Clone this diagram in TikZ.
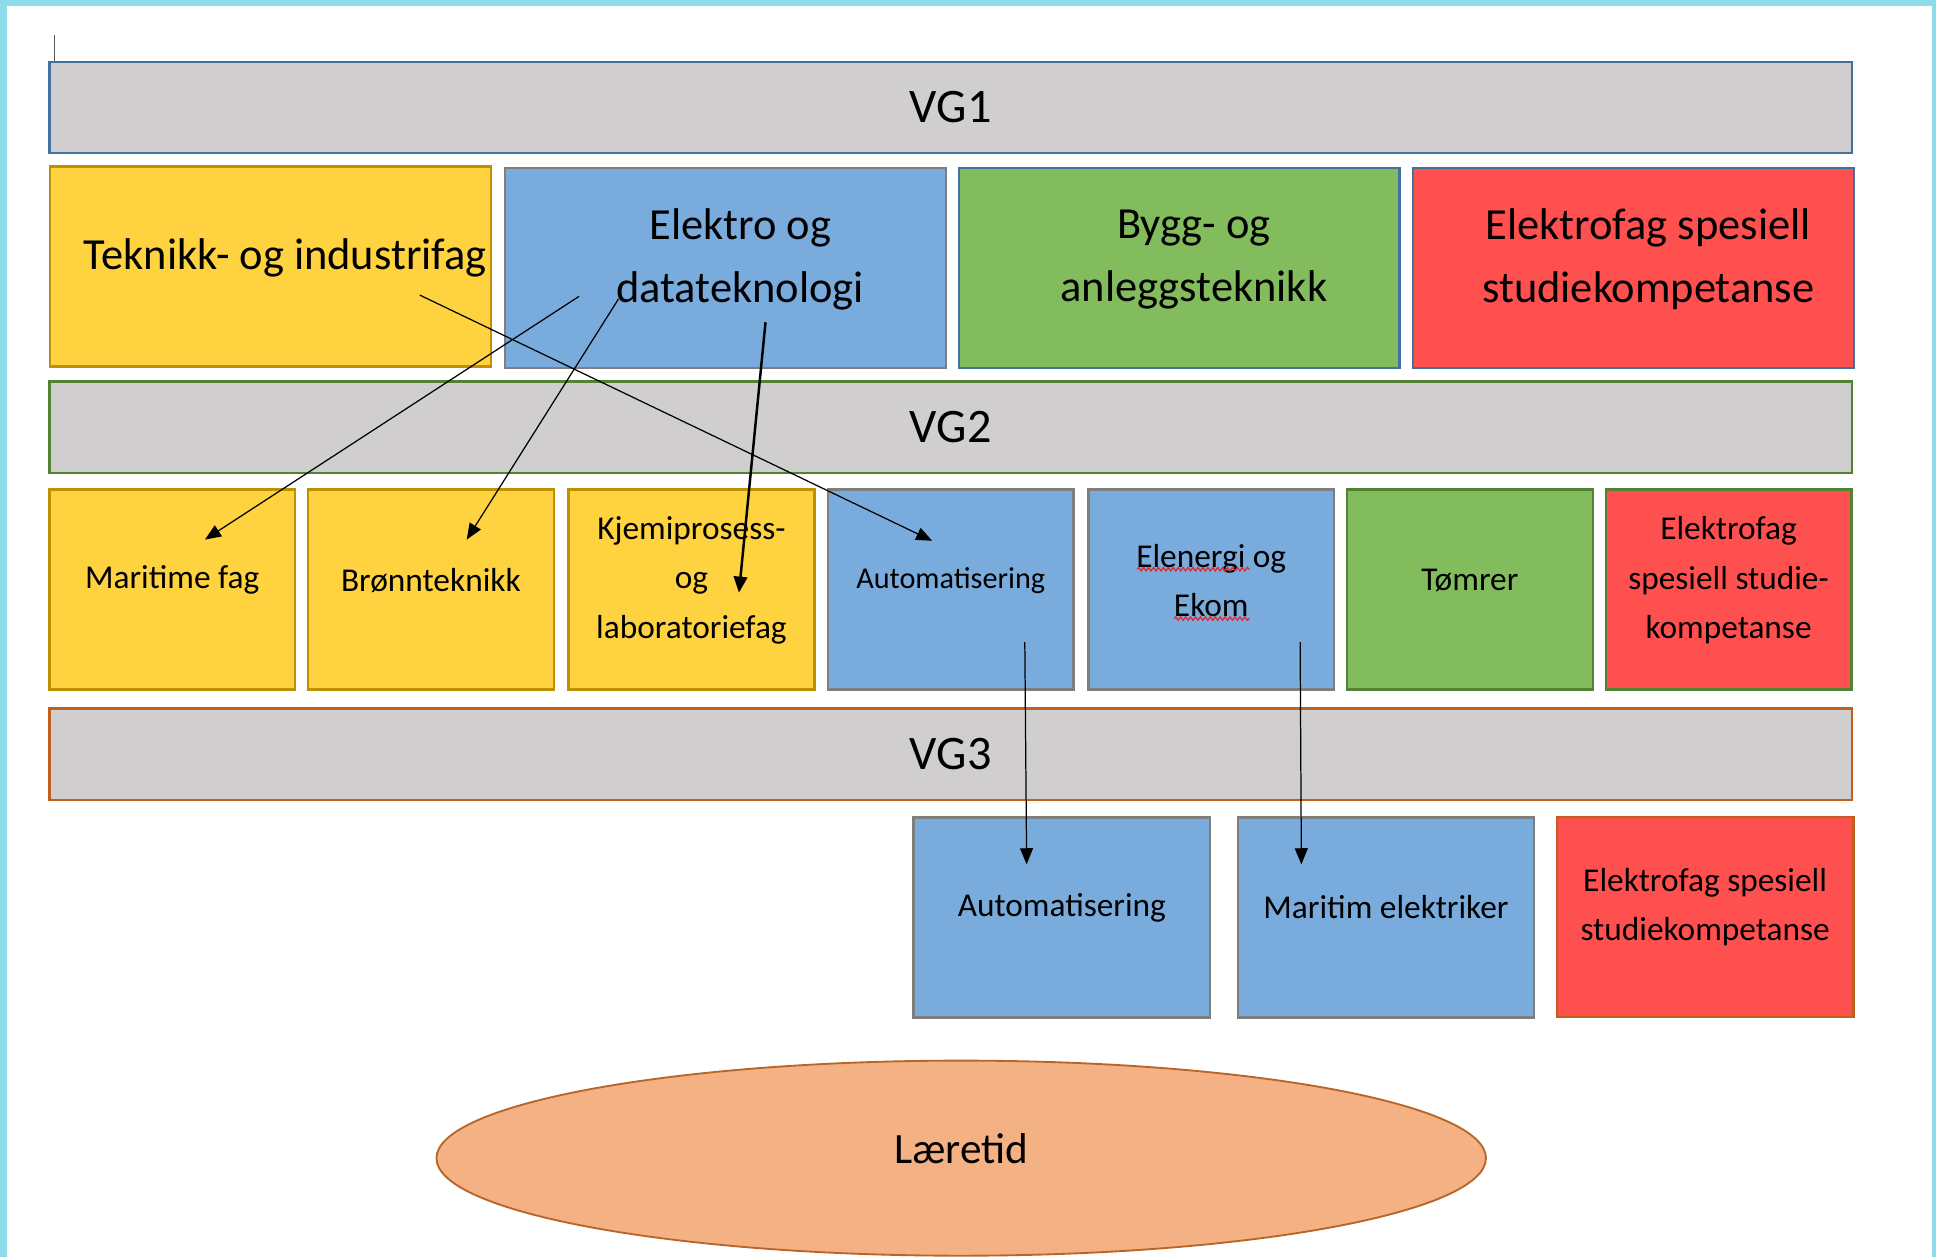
\documentclass[tikz,border=0pt]{standalone}
\usepackage{fontspec}
\setmainfont{Carlito}
\usetikzlibrary{arrows.meta,shapes.geometric,decorations.pathmorphing}
\definecolor{framecyan}{HTML}{8DDCEA}
\definecolor{barfill}{HTML}{D0CECE}
\definecolor{vgblue}{HTML}{41719C}
\definecolor{vggreen}{HTML}{548235}
\definecolor{vgorange}{HTML}{C0601E}
\definecolor{yfill}{HTML}{FFD23F}
\definecolor{yline}{HTML}{BF9000}
\definecolor{bfill}{HTML}{79ACDD}
\definecolor{bline}{HTML}{7F7F7F}
\definecolor{gfill}{HTML}{83BC5C}
\definecolor{rfill}{HTML}{FF5050}
\definecolor{efill}{HTML}{F4B183}
\definecolor{eline}{HTML}{B8652A}
\definecolor{spell}{HTML}{E0282E}
\tikzset{
  bx/.style={rectangle, draw, line width=2pt, inner sep=0pt},
  vgbar/.style={bx, fill=barfill, minimum width=1460pt, minimum height=74pt,
    font=\fontsize{39}{47}\selectfont},
  rowone/.style={minimum width=357pt, minimum height=162pt},
  rowtwo/.style={minimum width=199pt, minimum height=162pt},
  rowthree/.style={minimum width=240pt, minimum height=162pt},
  ybox/.style={bx, fill=yfill, draw=yline},
  bbox/.style={bx, fill=bfill, draw=bline},
  gbox/.style={bx, fill=gfill},
  rbox/.style={bx, fill=rfill},
  tone/.style={font=\fontsize{36}{51}\selectfont, align=center, xshift=12pt, yshift=7pt},
  ttwo/.style={font=\fontsize{27}{40}\selectfont, align=center, yshift=7.5pt},
  ttwosmall/.style={ttwo, font=\fontsize{24.5}{40}\selectfont},
  tthree/.style={font=\fontsize{27}{40}\selectfont, align=center, yshift=8pt},
  conn/.style={line width=1pt, -{Triangle[length=13pt,width=10.5pt]}},
  connthick/.style={line width=2pt, -{Triangle[length=13pt,width=11pt]}},
  squiggle/.style={draw=spell, line width=1pt, decorate,
    decoration={snake, segment length=4pt, amplitude=1.4pt}},
}
\begin{document}
\begin{tikzpicture}[x=1pt,y=-1pt]
\useasboundingbox (0,0) rectangle (1568,1018);
\fill[framecyan] (0,0) rectangle (1568,1018);
\fill[white] (6,4.5) rectangle (1564.5,1018);
% text cursor
\draw[black!65, line width=1pt] (44,28) -- (44,58);

% level bars
\node[vgbar, draw=vgblue]   (vg1) at (770,87)  {VG1};
\node[vgbar, draw=vggreen]  (vg2) at (770,346) {VG2};
\node[vgbar, draw=vgorange] (vg3) at (770,611) {VG3};

% row 1
\node[ybox, rowone, label={[tone]center:Teknikk- og industrifag}] (tek) at (219,216) {};
\node[bbox, rowone, label={[tone]center:{Elektro og\\datateknologi}}] (ele) at (587.5,217) {};
\node[gbox, rowone, draw=vgblue, label={[tone]center:{Bygg- og\\anleggsteknikk}}] (byg) at (955,217) {};
\node[rbox, rowone, draw=vgblue, label={[tone]center:{Elektrofag spesiell\\studiekompetanse}}] (rfa) at (1323,217) {};

% row 2
\node[ybox, rowtwo, label={[ttwo]center:Maritime fag}] (mar) at (139.5,477.5) {};
\node[ybox, rowtwo, label={[ttwo]center:Brønnteknikk}] (bro) at (349,477.5) {};
\node[ybox, rowtwo, label={[ttwo]center:{Kjemiprosess-\\og\\laboratoriefag}}] (kje) at (560,477.5) {};
\node[bbox, rowtwo, label={[ttwosmall]center:Automatisering}] (autb) at (770,477.5) {};
\node[bbox, rowtwo, label={[ttwo]center:{Elenergi og\\Ekom}}] (eln) at (981,477.5) {};
\node[gbox, rowtwo, draw=vggreen, label={[ttwo]center:Tømrer}] (tom) at (1190.5,477.5) {};
\node[rbox, rowtwo, draw=vggreen, label={[ttwo]center:{Elektrofag\\spesiell studie-\\kompetanse}}] (rfb) at (1400,477.5) {};

% spell-check marks
\draw[squiggle] (921,461) -- (1012,461);
\draw[squiggle] (951,501) -- (1012,501);

% row 3
\node[bbox, rowthree, label={[tthree]center:Automatisering}] (autc) at (860,743) {};
\node[bbox, rowthree, label={[tthree]center:Maritim elektriker}] (mel) at (1122.5,743) {};
\node[rbox, rowthree, draw=vgorange, label={[tthree]center:{Elektrofag spesiell\\studiekompetanse}}] (rfc) at (1381,742.5) {};

% apprenticeship
\node[ellipse, draw=eline, fill=efill, line width=1.5pt, minimum width=850pt,
  minimum height=158pt, inner sep=0pt,
  label={[font=\fontsize{35}{40}\selectfont, yshift=8pt]center:Læretid}] (laer) at (778.5,938) {};

% connector end points
\coordinate (s1) at (469,240);   \coordinate (e1) at (166,437);
\coordinate (s2) at (501,242);   \coordinate (e2) at (378,437);
\coordinate (s3) at (620,261);   \coordinate (e3) at (598.5,480);
\coordinate (s4) at (340,239);   \coordinate (e4) at (755,438);
\coordinate (s5) at (830,520);   \coordinate (e5) at (831.5,700);
\coordinate (s6) at (1053,520);  \coordinate (e6) at (1054,700);

\draw[conn] (s1) -- (e1);
\draw[conn] (s2) -- (e2);
\draw[connthick] (s3) -- (e3);
\draw[conn] (s4) -- (e4);
\draw[conn] (s5) -- (e5);
\draw[conn] (s6) -- (e6);
\end{tikzpicture}
\end{document}
